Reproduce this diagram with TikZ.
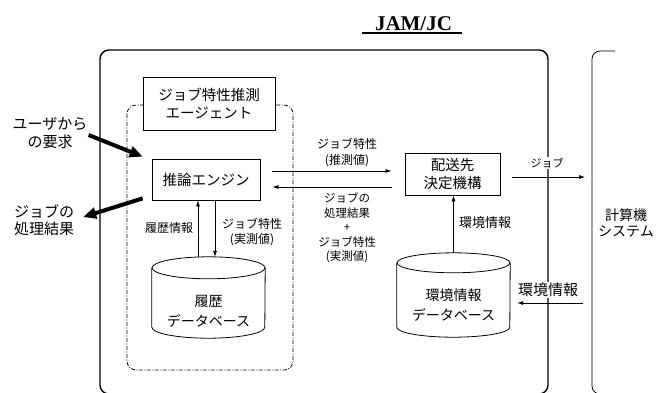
\documentclass[tikz,border=0pt]{standalone}
\usepackage{fontspec}
\setmainfont{Noto Sans CJK JP}
\newfontfamily\titlefont{Liberation Serif}
\usetikzlibrary{arrows.meta}

\begin{document}
\begin{tikzpicture}[x=1pt,y=-1pt]
    \tikzset{
        box/.style={draw, line width=0.8pt, align=center, inner sep=2pt,
            font=\fontsize{14.5}{17.5}\selectfont},
        dbase/.style={minimum width=113pt, inner sep=0pt},
        dbtxt/.style={align=center, inner sep=1pt, font=\fontsize{14}{19.5}\selectfont},
        lbl/.style={align=center, inner sep=1pt, font=\fontsize{12}{15.5}\selectfont},
        arc/.style={-{Latex[length=6pt,width=4pt]}, line width=0.7pt},
        bigarc/.style={-{Triangle[length=13pt,width=11pt]}, line width=4pt}
    }
    \useasboundingbox (0,0) rectangle (656,392);

    % frames
    \draw[line width=1.4pt, rounded corners=9pt] (100,50) rectangle (548,394);
    \draw[line width=0.8pt, rounded corners=8pt] (615,51) -- (592,51) -- (592,394) -- (600,394);
    \draw[line width=0.7pt, dash pattern=on 4pt off 1.5pt on 1pt off 1.5pt,
        rounded corners=9pt] (127,105) rectangle (293,370);

    \draw node[anchor=base, inner sep=0pt,
        font=\titlefont\bfseries\fontsize{21}{21}\selectfont] (title) at (413.5,30) {JAM/JC};
    \draw[line width=1.3pt] ([shift={(-13,3)}]title.base west) -- ([shift={(10,3)}]title.base east);

    \draw node[box, fill=white, minimum width=132pt, minimum height=53pt] (agent) at (209,103.5) {ジョブ特性推測\\エージェント};
    \draw node[box, minimum width=108pt, minimum height=41pt] (engine) at (206,179.5) {推論エンジン};
    \draw node[box, minimum width=95pt, minimum height=42pt] (dispatch) at (452.5,174) {配送先\\決定機構};

    % databases
    \node[dbase, minimum height=81pt] (histdb) at (208.5,297.5) {};
    \node[dbase, minimum height=84pt] (envdb) at (453.5,295) {};
    \foreach \db/\ry in {histdb/11, envdb/10}{
        \draw[line width=0.8pt] ([yshift=-\ry pt]\db.north west) -- ([yshift=\ry pt]\db.south west)
            arc[start angle=180, end angle=360, x radius=56.5pt, y radius=\ry pt]
            -- ([yshift=-\ry pt]\db.north east);
        \draw[line width=0.8pt] ([yshift=-\ry pt]\db.north) ellipse[x radius=56.5pt, y radius=\ry pt];
    }
    \draw node[dbtxt] (histtxt) at (208.5,311.5) {履歴\\データベース};
    \draw node[dbtxt] (envtxt) at (453.5,305) {環境情報\\データベース};

    % outside
    \draw node[lbl, font=\fontsize{15}{17.5}\selectfont] (request) at (50,133) {ユーザから\\の要求};
    \draw node[lbl, font=\fontsize{15}{17.5}\selectfont] (result) at (44,220) {ジョブの\\処理結果};
    \draw node[lbl, font=\fontsize{14}{15.5}\selectfont] (computer) at (626,223) {計算機\\システム};
    \coordinate (sysin) at (585,177);
    \coordinate (sysout) at (583,303);

    \draw[bigarc] ([shift={(0,2)}]request.east) -- ([shift={(-9,-2)}]engine.north west);
    \draw[bigarc] ([shift={(-9,-2)}]engine.south west) -- ([shift={(8,-3)}]result.east);

    % engine <-> history
    \draw[arc] ([xshift=-10.5pt]histdb.north) -- ([xshift=-8pt]engine.south);
    \draw[arc] ([xshift=9pt]engine.south) -- ([xshift=6.5pt]histdb.north);
    \draw node[lbl] (histinfo) at (169,228) {履歴情報};
    \draw node[lbl, font=\fontsize{12}{15}\selectfont] (jobreal) at (252,232.5) {ジョブ特性\\(実測値)};

    % engine <-> dispatch
    \draw[arc] ([shift={(12,-8.5)}]engine.east) -- ([shift={(-13,-3)}]dispatch.west);
    \draw[arc] ([shift={(-13,13)}]dispatch.west) -- ([shift={(12,7.5)}]engine.east);
    \draw node[lbl, font=\fontsize{12}{16}\selectfont] (jobest) at (347,153) {ジョブ特性\\(推測値)};
    \draw node[lbl, font=\fontsize{11.5}{14.5}\selectfont] (jobdone) at (347,228) {ジョブの\\処理結果\\+\\ジョブ特性\\(実測値)};

    \draw[arc] (envdb.north) -- (envdb.north |- dispatch.south);
    \draw node[lbl, font=\fontsize{13}{15}\selectfont, anchor=west] (envinfo) at (458,223) {環境情報};

    % to and from the computer system
    \draw node[lbl, fill=white, font=\fontsize{11}{13}\selectfont] (joblbl) at (547,163) {ジョブ};
    \draw node[lbl, fill=white, font=\fontsize{15}{17}\selectfont] (envlbl) at (548,290) {環境情報};
    \draw[arc] ([shift={(12,3)}]dispatch.east) -- (sysin);
    \draw[arc] (sysout) -- ([shift={(7,8)}]envdb.east);
\end{tikzpicture}
\end{document}
